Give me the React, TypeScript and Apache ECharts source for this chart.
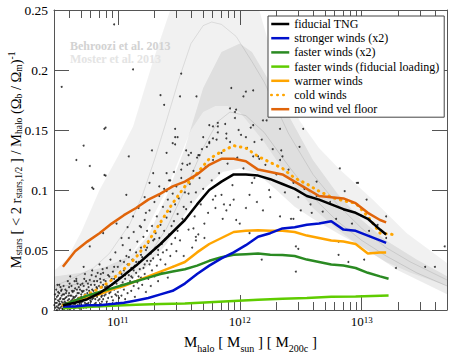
import React, { useEffect, useRef } from 'react';
import * as echarts from 'echarts';

const SERIF = "'Liberation Serif', 'DejaVu Serif', 'Times New Roman', Times, serif";

// x = log10(M_halo / M_sun), y = M_stars / M_halo / (Omega_b / Omega_m)
const fiducialTNG: number[][] = [
  [10.55, 0.004], [10.65, 0.006], [10.75, 0.009], [10.85, 0.014], [10.95, 0.021], [11.05, 0.029],
  [11.15, 0.037], [11.25, 0.046], [11.35, 0.055], [11.45, 0.065], [11.55, 0.075], [11.65, 0.088],
  [11.75, 0.1], [11.85, 0.107], [11.95, 0.113], [12.05, 0.113], [12.15, 0.112], [12.25, 0.109],
  [12.35, 0.105], [12.45, 0.101], [12.55, 0.095], [12.65, 0.092], [12.75, 0.088], [12.85, 0.084],
  [12.95, 0.081], [13.05, 0.076], [13.15, 0.067], [13.2, 0.063],
];
const strongerWinds: number[][] = [
  [10.55, 0.003], [10.65, 0.003], [10.75, 0.004], [10.85, 0.004], [10.95, 0.005], [11.05, 0.006],
  [11.15, 0.008], [11.25, 0.01], [11.35, 0.013], [11.45, 0.016], [11.55, 0.022], [11.65, 0.03],
  [11.75, 0.037], [11.85, 0.043], [11.95, 0.048], [12.05, 0.054], [12.15, 0.061], [12.25, 0.064],
  [12.35, 0.068], [12.45, 0.069], [12.55, 0.071], [12.65, 0.072], [12.75, 0.074], [12.85, 0.067],
  [12.95, 0.066], [13.05, 0.062], [13.15, 0.058], [13.2, 0.056],
];
const fasterWinds: number[][] = [
  [10.55, 0.004], [10.65, 0.008], [10.75, 0.012], [10.85, 0.015], [10.95, 0.018], [11.05, 0.021],
  [11.15, 0.024], [11.25, 0.027], [11.35, 0.03], [11.45, 0.032], [11.55, 0.034], [11.65, 0.037],
  [11.75, 0.041], [11.85, 0.044], [11.95, 0.046], [12.05, 0.0465], [12.15, 0.047], [12.25, 0.046],
  [12.35, 0.0458], [12.45, 0.045], [12.55, 0.042], [12.65, 0.04], [12.75, 0.038], [12.85, 0.037],
  [12.95, 0.035], [13.05, 0.031], [13.15, 0.028], [13.22, 0.026],
];
const fasterWindsFidLoading: number[][] = [
  [10.55, 0.0015], [10.75, 0.0025], [10.95, 0.0035], [11.15, 0.0043], [11.35, 0.005], [11.55, 0.0055],
  [11.75, 0.0065], [11.95, 0.0075], [12.15, 0.0085], [12.35, 0.0093], [12.55, 0.01], [12.75, 0.011],
  [12.95, 0.0113], [13.22, 0.012],
];
const warmerWinds: number[][] = [
  [10.55, 0.004], [10.65, 0.007], [10.75, 0.01], [10.85, 0.013], [10.95, 0.017], [11.05, 0.02],
  [11.15, 0.024], [11.25, 0.028], [11.35, 0.032], [11.45, 0.036], [11.55, 0.04], [11.65, 0.048],
  [11.75, 0.055], [11.85, 0.06], [11.95, 0.065], [12.05, 0.066], [12.15, 0.0665], [12.25, 0.066],
  [12.35, 0.066], [12.45, 0.065], [12.55, 0.062], [12.65, 0.06], [12.75, 0.058], [12.85, 0.057],
  [12.95, 0.055], [13.05, 0.047], [13.15, 0.048], [13.2, 0.048],
];
const coldWinds: number[][] = [
  [10.55, 0.004], [10.65, 0.008], [10.75, 0.013], [10.85, 0.018], [10.95, 0.025], [11.05, 0.034],
  [11.15, 0.044], [11.25, 0.057], [11.35, 0.073], [11.45, 0.089], [11.55, 0.103], [11.65, 0.114],
  [11.75, 0.126], [11.85, 0.132], [11.95, 0.137], [12.05, 0.135], [12.15, 0.128], [12.25, 0.123],
  [12.35, 0.118], [12.45, 0.11], [12.55, 0.105], [12.65, 0.099], [12.75, 0.094], [12.85, 0.091],
  [12.95, 0.089], [13.05, 0.078], [13.15, 0.064], [13.25, 0.063],
];
const noWindVelFloor: number[][] = [
  [10.55, 0.036], [10.65, 0.049], [10.75, 0.057], [10.85, 0.064], [10.95, 0.072], [11.05, 0.079],
  [11.15, 0.085], [11.25, 0.092], [11.35, 0.097], [11.45, 0.103], [11.55, 0.107], [11.65, 0.113],
  [11.75, 0.121], [11.85, 0.126], [11.95, 0.126], [12.05, 0.124], [12.15, 0.117], [12.25, 0.115],
  [12.35, 0.113], [12.45, 0.107], [12.55, 0.101], [12.65, 0.095], [12.75, 0.094], [12.85, 0.093],
  [12.95, 0.089], [13.05, 0.081], [13.15, 0.075], [13.2, 0.073],
];

// Moster et al. 2013 band
const mosterUpper: number[][] = [
  [10.48, 0.033], [10.58, 0.042], [10.7, 0.065], [10.85, 0.1], [11.0, 0.128], [11.125, 0.153],
  [11.29, 0.208], [11.43, 0.25], [11.6, 0.29], [11.8, 0.31], [12.0, 0.29], [12.16, 0.25],
  [12.3, 0.2], [12.49, 0.158], [12.65, 0.135], [12.82, 0.117], [13.09, 0.092], [13.37, 0.064], [13.7, 0.039],
];
const mosterCenter: number[][] = [
  [10.48, 0.02], [10.6, 0.025], [10.8, 0.035], [10.93, 0.047], [11.1, 0.072], [11.2, 0.095],
  [11.3, 0.125], [11.4, 0.158], [11.5, 0.192], [11.6, 0.222], [11.7, 0.237], [11.77, 0.24],
  [11.85, 0.238], [11.97, 0.228], [12.1, 0.207], [12.2, 0.19], [12.4, 0.147], [12.6, 0.113],
  [12.8, 0.088], [13.0, 0.068], [13.2, 0.052], [13.4, 0.04], [13.7, 0.025],
];
const mosterLower: number[][] = [
  [10.48, 0.012], [10.6, 0.015], [10.8, 0.022], [11.0, 0.033], [11.1, 0.045], [11.2, 0.06],
  [11.3, 0.08], [11.4, 0.1], [11.5, 0.125], [11.6, 0.15], [11.7, 0.165], [11.8, 0.17], [11.9, 0.17],
  [12.0, 0.165], [12.2, 0.14], [12.4, 0.11], [12.6, 0.085], [12.8, 0.067], [13.0, 0.052],
  [13.2, 0.04], [13.4, 0.031], [13.7, 0.02],
];
// Behroozi et al. 2013 band
const behrooziUpper: number[][] = [
  [10.48, 0.028], [10.7, 0.031], [10.9, 0.036], [11.1, 0.045], [11.25, 0.062], [11.4, 0.095],
  [11.55, 0.135], [11.7, 0.185], [11.85, 0.215], [12.0, 0.222], [12.1, 0.215], [12.2, 0.198],
  [12.4, 0.162], [12.6, 0.125], [12.8, 0.097], [13.0, 0.075], [13.2, 0.058], [13.45, 0.042], [13.7, 0.028],
];
const behrooziCenter: number[][] = [
  [10.48, 0.019], [10.7, 0.022], [10.9, 0.026], [11.1, 0.033], [11.25, 0.045], [11.4, 0.068],
  [11.55, 0.1], [11.7, 0.135], [11.82, 0.157], [11.92, 0.165], [12.05, 0.162], [12.2, 0.148],
  [12.4, 0.12], [12.6, 0.094], [12.8, 0.074], [13.0, 0.058], [13.2, 0.045], [13.45, 0.031], [13.7, 0.02],
];
const behrooziLower: number[][] = [
  [10.48, 0.012], [10.7, 0.014], [10.9, 0.018], [11.1, 0.025], [11.25, 0.037], [11.4, 0.055],
  [11.55, 0.08], [11.7, 0.1], [11.86, 0.115], [12.0, 0.118], [12.14, 0.114], [12.3, 0.1],
  [12.45, 0.086], [12.6, 0.076], [12.82, 0.063], [13.0, 0.053], [13.3, 0.033], [13.7, 0.013],
];

// individual galaxies of the fiducial run
const galaxiesCore: number[][] = [
  [10.48, 0.004], [10.49, 0.009], [10.5, 0.0], [10.5, 0.006], [10.51, 0.002], [10.51, 0.012], [10.52, 0.007],
  [10.52, 0.014], [10.53, 0.002], [10.53, 0.005], [10.54, 0.012], [10.54, 0.017], [10.55, 0.006], [10.55, 0.009],
  [10.56, 0.001], [10.56, 0.013], [10.57, 0.003], [10.57, 0.01], [10.58, 0.006], [10.58, 0.016], [10.59, 0.001],
  [10.59, 0.004], [10.6, 0.009], [10.6, 0.019], [10.61, 0.004], [10.61, 0.012], [10.62, 0.002], [10.62, 0.008],
  [10.63, 0.015], [10.63, 0.006], [10.64, 0.001], [10.64, 0.01], [10.65, 0.005], [10.65, 0.018], [10.66, 0.003],
  [10.66, 0.012], [10.67, 0.007], [10.67, 0.022], [10.68, 0.002], [10.68, 0.014], [10.69, 0.009], [10.69, 0.017],
  [10.7, 0.004], [10.7, 0.011], [10.71, 0.007], [10.71, 0.015], [10.72, 0.002], [10.72, 0.02], [10.73, 0.01],
  [10.73, 0.013], [10.74, 0.005], [10.74, 0.024], [10.76, 0.006], [10.77, 0.013], [10.78, 0.021], [10.79, 0.009],
  [10.8, 0.016], [10.81, 0.005], [10.82, 0.012], [10.83, 0.024], [10.84, 0.014], [10.85, 0.009], [10.86, 0.03],
  [10.87, 0.007], [10.88, 0.021], [10.89, 0.012], [10.91, 0.02], [10.92, 0.029], [10.93, 0.014], [10.95, 0.026],
  [10.96, 0.018], [10.97, 0.036], [10.99, 0.012], [11.0, 0.025], [11.02, 0.032], [11.03, 0.021], [11.05, 0.04],
  [11.06, 0.029], [11.08, 0.022], [11.09, 0.044], [11.11, 0.028], [11.13, 0.033], [11.15, 0.04], [11.17, 0.028],
  [11.19, 0.046], [11.22, 0.038], [11.24, 0.052], [11.27, 0.041], [11.3, 0.059], [11.33, 0.05],
  [10.485, 0.013], [10.495, 0.017], [10.505, 0.021], [10.515, 0.004], [10.525, 0.009], [10.535, 0.016],
  [10.545, 0.001], [10.555, 0.02], [10.565, 0.007], [10.575, 0.014], [10.585, 0.003], [10.595, 0.012],
  [10.605, 0.022], [10.615, 0.002], [10.625, 0.016], [10.635, 0.011], [10.645, 0.024], [10.655, 0.008],
  [10.665, 0.017], [10.675, 0.01], [10.685, 0.005], [10.695, 0.021], [10.705, 0.016], [10.715, 0.01],
  [10.725, 0.026], [10.735, 0.004], [10.745, 0.017], [10.755, 0.022], [10.765, 0.016], [10.775, 0.008],
  [10.785, 0.029], [10.795, 0.013], [10.805, 0.024], [10.815, 0.009], [10.825, 0.019], [10.835, 0.031],
  [10.845, 0.02], [10.855, 0.026], [10.865, 0.011], [10.875, 0.034], [10.885, 0.025], [10.895, 0.019],
];
const galaxiesBulk: number[][] = [
  [10.49, 0.002], [10.49, 0.006], [10.5, 0.011], [10.5, 0.003], [10.51, 0.008], [10.51, 0.015], [10.52, 0.001],
  [10.52, 0.005], [10.53, 0.01], [10.53, 0.019], [10.54, 0.003], [10.54, 0.007], [10.55, 0.013], [10.55, 0.001],
  [10.56, 0.009], [10.56, 0.004], [10.57, 0.017], [10.57, 0.006], [10.58, 0.002], [10.58, 0.011], [10.59, 0.008],
  [10.59, 0.024], [10.6, 0.004], [10.6, 0.014], [10.61, 0.001], [10.61, 0.007], [10.62, 0.012], [10.62, 0.02],
  [10.63, 0.003], [10.63, 0.009], [10.64, 0.016], [10.64, 0.005], [10.65, 0.011], [10.65, 0.002], [10.66, 0.008],
  [10.66, 0.026], [10.67, 0.014], [10.67, 0.004], [10.68, 0.01], [10.68, 0.019], [10.69, 0.006], [10.69, 0.001],
  [10.7, 0.013], [10.7, 0.008], [10.71, 0.022], [10.71, 0.003], [10.72, 0.011], [10.72, 0.016], [10.73, 0.006],
  [10.73, 0.03], [10.74, 0.009], [10.74, 0.002], [10.75, 0.014], [10.75, 0.005], [10.76, 0.019], [10.76, 0.01],
  [10.77, 0.003], [10.77, 0.025], [10.78, 0.012], [10.78, 0.007], [10.79, 0.017], [10.79, 0.033], [10.8, 0.004],
  [10.8, 0.01], [10.81, 0.021], [10.81, 0.014], [10.82, 0.006], [10.82, 0.028], [10.83, 0.011], [10.83, 0.018],
  [10.84, 0.003], [10.84, 0.008], [10.85, 0.015], [10.85, 0.038], [10.86, 0.023], [10.86, 0.005], [10.87, 0.012],
  [10.87, 0.019], [10.88, 0.009], [10.88, 0.031], [10.89, 0.016], [10.89, 0.004], [10.9, 0.013], [10.9, 0.024],
  [10.91, 0.007], [10.91, 0.035], [10.92, 0.018], [10.92, 0.01], [10.93, 0.028], [10.93, 0.005], [10.94, 0.015],
  [10.94, 0.042], [10.95, 0.021], [10.95, 0.011], [10.96, 0.032], [10.96, 0.008], [10.97, 0.017], [10.97, 0.026],
  [10.98, 0.013], [10.98, 0.048], [10.99, 0.022], [10.99, 0.006], [11.0, 0.036], [11.0, 0.015], [11.01, 0.027],
  [11.01, 0.01], [11.02, 0.019], [11.02, 0.041], [11.03, 0.03], [11.03, 0.012], [11.04, 0.023], [11.04, 0.054],
  [11.05, 0.017], [11.05, 0.033], [11.06, 0.026], [11.06, 0.009], [11.07, 0.045], [11.07, 0.021], [11.08, 0.038],
  [11.08, 0.014], [11.09, 0.029], [11.09, 0.06], [11.1, 0.024], [11.1, 0.05], [11.11, 0.035], [11.11, 0.016],
  [11.12, 0.042], [11.12, 0.027], [11.13, 0.02], [11.13, 0.065], [11.14, 0.037], [11.14, 0.011], [11.15, 0.048],
  [11.15, 0.031], [11.16, 0.023], [11.16, 0.057], [11.17, 0.04], [11.17, 0.018], [11.18, 0.034], [11.18, 0.07],
  [11.19, 0.027], [11.19, 0.052], [11.2, 0.044], [11.2, 0.021], [11.21, 0.061], [11.21, 0.035], [11.22, 0.03],
  [11.22, 0.075], [11.23, 0.05], [11.23, 0.015], [11.24, 0.041], [11.24, 0.066], [11.25, 0.026], [11.25, 0.056],
  [11.26, 0.038], [11.26, 0.083], [11.27, 0.047], [11.27, 0.02], [11.28, 0.07], [11.28, 0.033], [11.29, 0.058],
  [11.29, 0.043], [11.3, 0.09], [11.3, 0.028], [11.31, 0.052], [11.31, 0.064], [11.32, 0.037], [11.32, 0.078],
  [11.33, 0.046], [11.33, 0.024], [11.34, 0.06], [11.34, 0.095], [11.35, 0.042], [11.35, 0.071], [11.36, 0.055],
  [11.36, 0.031], [11.37, 0.086], [11.37, 0.048], [11.38, 0.066], [11.38, 0.101], [11.39, 0.038], [11.39, 0.059],
  [11.4, 0.077], [11.4, 0.05], [11.41, 0.092], [11.41, 0.027], [11.42, 0.063], [11.42, 0.108], [11.43, 0.045],
  [11.43, 0.082], [11.44, 0.07], [11.44, 0.055], [11.45, 0.097], [11.45, 0.036], [11.46, 0.074], [11.46, 0.115],
  [11.47, 0.06], [11.47, 0.088], [11.48, 0.049], [11.48, 0.103], [11.49, 0.08], [11.49, 0.066], [11.5, 0.093],
  [11.51, 0.058], [11.52, 0.11], [11.53, 0.076], [11.54, 0.045], [11.55, 0.098], [11.56, 0.084], [11.57, 0.121],
  [11.58, 0.067], [11.59, 0.105], [11.6, 0.09], [11.61, 0.052], [11.62, 0.116], [11.63, 0.078], [11.64, 0.098],
  [11.65, 0.127], [11.66, 0.063], [11.67, 0.11], [11.68, 0.088], [11.69, 0.134], [11.7, 0.101], [11.72, 0.119],
  [11.74, 0.081], [11.75, 0.14], [11.77, 0.108], [11.78, 0.125], [11.8, 0.095], [11.82, 0.148], [11.83, 0.114],
  [11.85, 0.131], [11.87, 0.088], [11.88, 0.155], [11.9, 0.122], [11.92, 0.14], [11.94, 0.104], [11.96, 0.16],
  [11.98, 0.127], [12.01, 0.146], [12.03, 0.118], [12.06, 0.135], [12.09, 0.152], [12.12, 0.11], [12.15, 0.128],
  [12.18, 0.142], [12.21, 0.121], [12.24, 0.1], [12.27, 0.134], [12.3, 0.113], [12.33, 0.125], [12.37, 0.098],
  [12.4, 0.117], [12.44, 0.106], [12.48, 0.094], [12.53, 0.101], [12.58, 0.088], [12.63, 0.095], [12.68, 0.082],
  [12.74, 0.09], [12.79, 0.076], [12.85, 0.084], [12.92, 0.072], [12.99, 0.079], [13.06, 0.066], [13.13, 0.071],
  [13.2, 0.06],
];
const galaxiesSparse: number[][] = [
  [10.97, 0.238], [11.125, 0.2005], [10.54, 0.186], [11.52, 0.197], [11.35, 0.179], [11.51, 0.178], [11.645, 0.178],
  [11.38, 0.171], [10.9, 0.152], [10.72, 0.137], [10.66, 0.125], [10.77, 0.12], [11.09, 0.128], [11.28, 0.133],
  [10.9, 0.112], [11.47, 0.144], [11.47, 0.138], [11.56, 0.133], [11.6, 0.131], [11.67, 0.129], [11.73, 0.136],
  [11.78, 0.143], [11.82, 0.156], [11.78, 0.153], [11.89, 0.147], [11.59, 0.122], [11.4, 0.114], [11.29, 0.114],
  [11.93, 0.185], [12.05, 0.182], [12.11, 0.183], [12.03, 0.178], [11.92, 0.168], [11.96, 0.165], [11.4, 0.131],
  [11.47, 0.151], [11.45, 0.139], [11.49, 0.144], [11.7, 0.144], [11.75, 0.154], [11.82, 0.153], [11.89, 0.143],
  [11.81, 0.142], [11.99, 0.15], [12.05, 0.144], [12.12, 0.14], [12.11, 0.128], [12.16, 0.126], [12.22, 0.158],
  [12.34, 0.133], [12.35, 0.128], [11.58, 0.129], [11.53, 0.122], [11.97, 0.167], [12.11, 0.154], [12.19, 0.158],
  [12.33, 0.151], [12.49, 0.136], [12.82, 0.118], [12.52, 0.151], [12.97, 0.106], [12.63, 0.107], [12.86, 0.099],
  [13.04, 0.092], [13.2, 0.078], [12.5, 0.083], [12.59, 0.081], [12.42, 0.076], [12.81, 0.046], [12.89, 0.04],
  [13.02, 0.042], [12.46, 0.032], [13.28, 0.035], [13.52, 0.036], [13.6, 0.036], [13.68, 0.053], [12.46, 0.053],
  [12.0, 0.072], [12.18, 0.042], [12.96, 0.106], [12.81, 0.057], [11.92, 0.0875], [12.1, 0.106], [11.85, 0.096],
  [11.95, 0.092], [11.89, 0.083], [11.78, 0.092], [11.8, 0.085], [12.05, 0.085], [12.14, 0.09], [12.19, 0.083],
  [12.25, 0.094], [12.08, 0.096], [12.33, 0.078], [12.44, 0.076], [11.71, 0.072], [11.64, 0.061], [11.71, 0.06],
  [11.86, 0.076], [11.97, 0.075], [12.08, 0.064], [12.48, 0.051], [11.75, 0.139], [11.66, 0.129], [10.89, 0.1125],
  [10.8, 0.101], [11.26, 0.106], [11.22, 0.094], [11.17, 0.085], [11.07, 0.096], [10.77, 0.053], [10.88, 0.064],
  [10.99, 0.072], [11.03, 0.06], [11.08, 0.069], [11.125, 0.078], [11.19, 0.069], [11.23, 0.081], [11.34, 0.103],
  [11.4, 0.099], [11.43, 0.108], [11.52, 0.117], [11.58, 0.097], [11.54, 0.086], [11.62, 0.068], [11.64, 0.058],
  [10.66, 0.024], [10.61, 0.028], [10.52, 0.021], [10.72, 0.036], [10.89, 0.151], [10.79, 0.102],
];

const X_MIN = 10.477; // 3e10
const X_MAX = 13.699; // 5e13
const majorTicks = [11, 12, 13];
const minorMultipliers = [2, 3, 4, 5, 6, 7, 8, 9];

function minorTickValues(): number[] {
  const out: number[] = [];
  for (let d = 10; d <= 13; d++) {
    for (const m of minorMultipliers) {
      const v = d + Math.log10(m);
      if (v > X_MIN + 1e-6 && v < X_MAX - 1e-6) out.push(v);
    }
  }
  return out;
}

const lineNames = [
  'fiducial TNG',
  'stronger winds (x2)',
  'faster winds (x2)',
  'faster winds (fiducial loading)',
  'warmer winds',
  'cold winds',
  'no wind vel floor',
];

export default function App() {
  const ref = useRef<HTMLDivElement>(null);
  useEffect(() => {
    if (!ref.current) return;
    const chart = echarts.init(ref.current, null, { renderer: 'svg' });
    const minors = minorTickValues();
    const axisColor = '#555';

    const band = (name: string, upper: number[][], lower: number[][], fill: string) => ({
      type: 'custom',
      name,
      xAxisIndex: 0,
      yAxisIndex: 0,
      clip: true,
      silent: true,
      z: 1,
      data: [upper[0]],
      encode: { x: 0, y: 1 },
      renderItem: (_params: any, api: any) => {
        const pts = upper.map((p) => api.coord(p)).concat(lower.slice().reverse().map((p) => api.coord(p)));
        return { type: 'polygon', shape: { points: pts }, style: { fill, stroke: 'none' } };
      },
    });
    const centerLine = (name: string, data: number[][], color: string) => ({
      type: 'line',
      name,
      data,
      symbol: 'none',
      silent: true,
      z: 1,
      lineStyle: { color, width: 0.8 },
    });
    const resultLine = (name: string, data: number[][], color: string, dotted = false) => ({
      type: 'line',
      name,
      data,
      symbol: 'none',
      z: 5,
      color,
      lineStyle: dotted
        ? { color, width: 3, type: [0.5, 5.5], cap: 'round' }
        : { color, width: 2.5 },
    });

    const sub = { fontSize: 9.5, fontFamily: SERIF, color: '#000', lineHeight: 9, verticalAlign: 'bottom' };
    const sup = { fontSize: 9.5, fontFamily: SERIF, color: '#000', lineHeight: 9, verticalAlign: 'top' };
    const base = { fontSize: 14.5, fontFamily: SERIF, color: '#000', lineHeight: 17, verticalAlign: 'middle' };
    const xsub = { fontSize: 10, fontFamily: SERIF, color: '#000', lineHeight: 10, verticalAlign: 'bottom' };
    const xbase = { fontSize: 15, fontFamily: SERIF, color: '#000', lineHeight: 22, verticalAlign: 'middle' };

    const option: any = {
      animation: false,
      backgroundColor: '#fff',
      textStyle: { fontFamily: SERIF },
      grid: { left: 54, right: 11, top: 10, bottom: 44, containLabel: false, outerBoundsMode: 'none' },
      xAxis: [
        {
          type: 'value', position: 'bottom', min: X_MIN, max: X_MAX,
          axisLine: { show: true, onZero: false, lineStyle: { color: axisColor, width: 1 } },
          axisTick: { show: true, inside: true, length: 15, customValues: majorTicks, lineStyle: { color: axisColor } },
          axisLabel: {
            show: true, customValues: majorTicks, margin: 5, fontFamily: SERIF,
            formatter: (v: number) => '{b|10}{p|' + Math.round(v) + '}',
            rich: {
              b: { fontSize: 13, fontFamily: SERIF, color: '#000', lineHeight: 13, verticalAlign: 'bottom' },
              p: { fontSize: 9, fontFamily: SERIF, color: '#000', lineHeight: 9, verticalAlign: 'top' },
            },
          },
          splitLine: { show: false },
          name: '{n|M}{s|halo}{n| [ M}{s|sun}{n| ] [ M}{s|200c}{n| ]}',
          nameLocation: 'middle',
          nameGap: 21,
          nameMoveOverlap: false,
          nameTextStyle: { fontFamily: SERIF, rich: { n: xbase, s: xsub } },
        },
        {
          type: 'value', position: 'bottom', min: X_MIN, max: X_MAX,
          axisLine: { show: false, onZero: false },
          axisTick: { show: true, inside: true, length: 8, customValues: minors, lineStyle: { color: axisColor } },
          axisLabel: { show: false },
          splitLine: { show: false },
        },
        {
          type: 'value', position: 'top', min: X_MIN, max: X_MAX,
          axisLine: { show: true, onZero: false, lineStyle: { color: axisColor, width: 1 } },
          axisTick: { show: true, inside: true, length: 15, customValues: majorTicks, lineStyle: { color: axisColor } },
          axisLabel: { show: false },
          splitLine: { show: false },
        },
        {
          type: 'value', position: 'top', min: X_MIN, max: X_MAX,
          axisLine: { show: false, onZero: false },
          axisTick: { show: true, inside: true, length: 8, customValues: minors, lineStyle: { color: axisColor } },
          axisLabel: { show: false },
          splitLine: { show: false },
        },
      ],
      yAxis: [
        {
          type: 'value', position: 'left', min: 0, max: 0.25, interval: 0.05,
          axisLine: { show: true, onZero: false, lineStyle: { color: axisColor, width: 1 } },
          axisTick: { show: true, inside: true, length: 15, lineStyle: { color: axisColor } },
          axisLabel: { show: true, margin: 6, fontSize: 13.5, fontFamily: SERIF, color: '#000' },
          splitLine: { show: false },
          name: '{n|M}{s|stars}{n| [ < 2 r}{s|stars,1/2}{n| ] / M}{s|halo}{n| (Ω}{s|b}{n| / Ω}{s|m}{n|)}{p|-1}',
          nameLocation: 'middle',
          nameRotate: 90,
          nameGap: 30,
          nameMoveOverlap: false,
          nameTextStyle: { fontFamily: SERIF, rich: { n: base, s: sub, p: sup } },
        },
        {
          type: 'value', position: 'right', min: 0, max: 0.25, interval: 0.05,
          axisLine: { show: true, onZero: false, lineStyle: { color: axisColor, width: 1 } },
          axisTick: { show: true, inside: true, length: 15, lineStyle: { color: axisColor } },
          axisLabel: { show: false },
          splitLine: { show: false },
        },
      ],
      legend: {
        data: lineNames,
        orient: 'vertical',
        left: 268,
        top: 16,
        itemWidth: 18,
        itemHeight: 12,
        itemGap: 2.2,
        padding: [2, 5, 2, 2],
        borderColor: '#444',
        borderWidth: 1,
        backgroundColor: '#fff',
        selectedMode: false,
        itemStyle: { opacity: 0 },
        lineStyle: { width: 2.5 },
        textStyle: { fontFamily: SERIF, fontSize: 12, color: '#000', lineHeight: 12 },
      },
      graphic: [
        {
          type: 'text', left: 70, top: 40, z: 3, silent: true,
          style: { text: 'Behroozi et al. 2013', fill: '#d2d2d2', font: 'bold 12px ' + SERIF },
        },
        {
          type: 'text', left: 70, top: 52.5, z: 3, silent: true,
          style: { text: 'Moster et al. 2013', fill: '#e4e4e4', font: 'bold 12px ' + SERIF },
        },
      ],
      series: [
        band('Moster band', mosterUpper, mosterLower, 'rgba(0,0,0,0.055)'),
        band('Behroozi band', behrooziUpper, behrooziLower, 'rgba(0,0,0,0.075)'),
        centerLine('Moster', mosterCenter, 'rgba(0,0,0,0.12)'),
        centerLine('Behroozi', behrooziCenter, 'rgba(0,0,0,0.14)'),
        {
          type: 'scatter', name: 'galaxies', silent: true, z: 3,
          data: galaxiesCore.concat(galaxiesBulk, galaxiesSparse),
          symbol: 'circle', symbolSize: 2, itemStyle: { color: '#111' },
        },
        resultLine(lineNames[5], coldWinds, '#ffa500', true),
        resultLine(lineNames[6], noWindVelFloor, '#e0640a'),
        resultLine(lineNames[4], warmerWinds, '#ffa500'),
        resultLine(lineNames[3], fasterWindsFidLoading, '#5fcc00'),
        resultLine(lineNames[2], fasterWinds, '#2a8a22'),
        resultLine(lineNames[1], strongerWinds, '#0010cc'),
        resultLine(lineNames[0], fiducialTNG, '#000000'),
      ],
    };
    chart.setOption(option);
    return () => chart.dispose();
  }, []);
  return <div ref={ref} style={{ position: 'absolute', left: 0, top: 0, width: 458, height: 354 }} />;
}
